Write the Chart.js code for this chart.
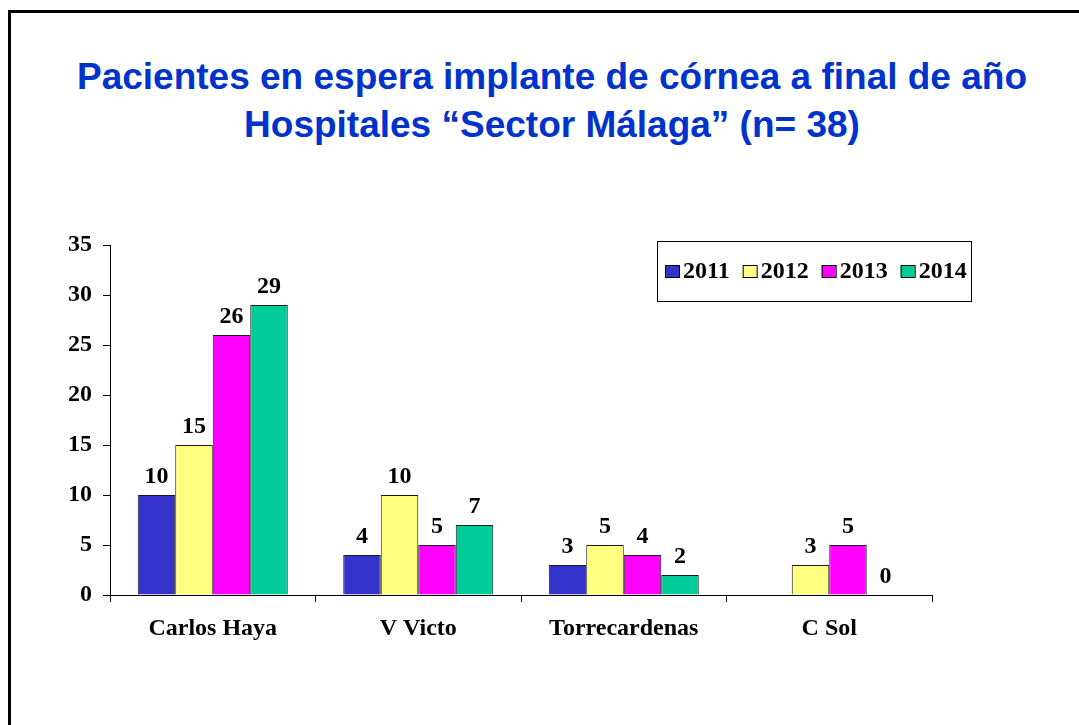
<!DOCTYPE html>
<html>
<head>
<meta charset="utf-8">
<title>Pacientes en espera implante de córnea</title>
<script src="https://cdn.jsdelivr.net/npm/chart.js@4.4.1/dist/chart.umd.min.js"></script>
<style>
  html, body { margin: 0; padding: 0; background: #fff; overflow: hidden; }
  #frame {
    position: absolute; left: 8px; top: 10px; width: 1200px; height: 800px;
    border-top: 3px solid #000; border-left: 3px solid #000;
  }
  #titulo {
    position: absolute; left: 25px; right: 0; top: 53px;
    text-align: center; color: #0033CC;
    font: bold 37px "Liberation Sans", Arial, sans-serif; line-height: 48px;
  }
  #grafico { position: absolute; left: 0; top: 0; }
</style>
</head>
<body>
<div id="frame"></div>
<div id="titulo">Pacientes en espera implante de córnea a final de año<br>Hospitales “Sector Málaga” (n= 38)</div>
<canvas id="grafico" width="1079" height="725"></canvas>
<script>
// datos
const hospitales = ['Carlos Haya', 'V Victo', 'Torrecardenas', 'C Sol'];
const anios = ['2011', '2012', '2013', '2014'];
const datos2011 = [10, 4, 3, null];
const datos2012 = [15, 10, 5, 3];
const datos2013 = [26, 5, 4, 5];
const datos2014 = [29, 7, 2, 0];
const colores = ['#3333CC', '#FFFF80', '#FF00FF', '#00CC99'];

const fuente = "'Liberation Serif', 'Times New Roman', serif";

// etiquetas de valor encima de cada barra
const etiquetasPlugin = {
  id: 'etiquetas',
  afterDatasetsDraw(chart) {
    const ctx = chart.ctx;
    ctx.save();
    ctx.font = 'bold 24px ' + fuente;
    ctx.fillStyle = '#000';
    ctx.textAlign = 'center';
    ctx.textBaseline = 'alphabetic';
    chart.data.datasets.forEach(function(ds, i) {
      const meta = chart.getDatasetMeta(i);
      meta.data.forEach(function(bar, j) {
        const v = ds.data[j];
        if (v === null || v === undefined) return;
        ctx.fillText(String(v), bar.x, bar.y - 12);
      });
    });
    ctx.restore();
  }
};

// leyenda con recuadro, dentro del área del gráfico
const leyendaPlugin = {
  id: 'leyendaCaja',
  afterDraw(chart) {
    const ctx = chart.ctx;
    const caja = { x: 657, y: 241, w: 314, h: 60 };
    ctx.save();
    ctx.fillStyle = '#fff';
    ctx.fillRect(caja.x, caja.y, caja.w, caja.h);
    ctx.strokeStyle = '#000';
    ctx.lineWidth = 1;
    ctx.strokeRect(caja.x + 0.5, caja.y + 0.5, caja.w, caja.h);
    ctx.font = 'bold 24px ' + fuente;
    ctx.textBaseline = 'middle';
    let x = 665;
    const yc = caja.y + caja.h / 2;
    chart.data.datasets.forEach(function(ds) {
      ctx.fillStyle = ds.backgroundColor;
      ctx.fillRect(x, yc - 6, 14, 12);
      ctx.strokeStyle = '#000';
      ctx.strokeRect(x + 0.5, yc - 6 + 0.5, 14, 12);
      ctx.fillStyle = '#000';
      ctx.fillText(ds.label, x + 18, yc + 1);
      x += 18 + ctx.measureText(ds.label).width + 13;
    });
    ctx.restore();
  }
};

const series = [datos2011, datos2012, datos2013, datos2014];

new Chart(document.getElementById('grafico'), {
  type: 'bar',
  data: {
    labels: hospitales,
    datasets: series.map(function(d, i) {
      return {
        label: anios[i],
        data: d,
        backgroundColor: colores[i],
        borderColor: '#1a1a1a',
        borderWidth: 1,
        barPercentage: 1.0,
        categoryPercentage: 0.73
      };
    })
  },
  options: {
    responsive: false,
    devicePixelRatio: 1,
    animation: false,
    layout: { padding: { top: 245, right: 147, left: 0, bottom: 0 } },
    plugins: {
      legend: { display: false },
      tooltip: { enabled: false },
      title: { display: false }
    },
    scales: {
      x: {
        grid: { drawOnChartArea: false, drawTicks: true, tickLength: 7, color: '#000', offset: true },
        border: { display: true, color: '#000', width: 1 },
        ticks: { color: '#000', padding: 12, font: { family: fuente, size: 24, weight: 'bold' } },
        afterFit: function(scale) { scale.height = 130; }
      },
      y: {
        min: 0,
        max: 35,
        ticks: { stepSize: 5, color: '#000', padding: 11, font: { family: fuente, size: 24, weight: 'bold' } },
        grid: { drawOnChartArea: false, drawTicks: true, tickLength: 7, color: '#000' },
        border: { display: true, color: '#000', width: 1 },
        afterFit: function(scale) { scale.width = 110; }
      }
    }
  },
  plugins: [etiquetasPlugin, leyendaPlugin]
});
</script>
</body>
</html>
